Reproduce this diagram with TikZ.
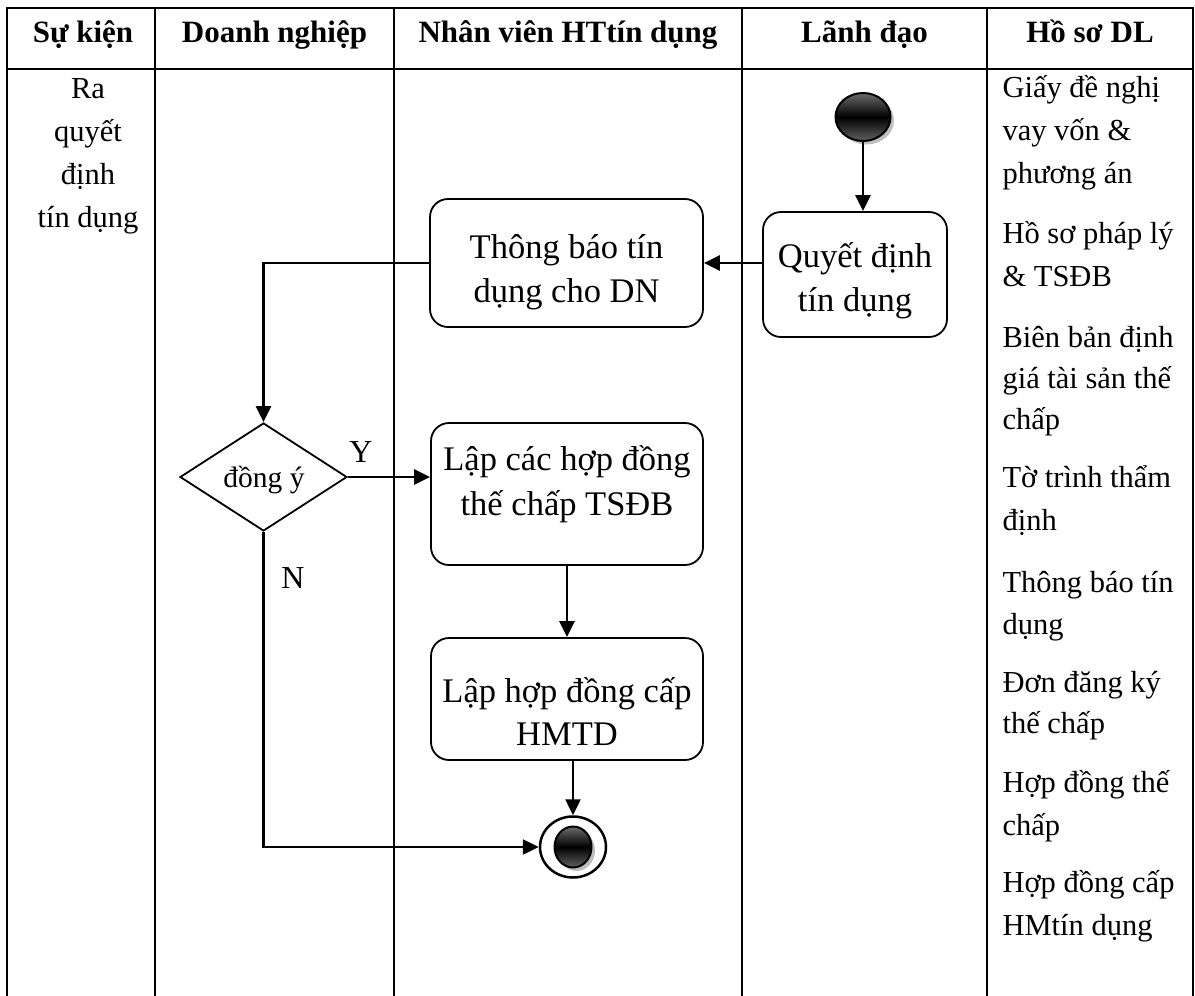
\documentclass[tikz,border=0pt]{standalone}
\usepackage{fontspec}
\setmainfont{Liberation Serif}
\usetikzlibrary{arrows.meta,shapes.geometric,shadows}
\begin{document}
\begin{tikzpicture}[x=1pt,y=-1pt,
  lane/.style={line width=2.8pt},
  act/.style={draw, line width=1.8pt, rounded corners=18pt, inner sep=0pt},
  acttext/.style={anchor=base, font=\fontsize{34.5}{40}\selectfont},
  flow/.style={line width=2.5pt, -{Triangle[length=16pt,width=15pt]}},
  head/.style={anchor=base, font=\bfseries\fontsize{31}{36}\selectfont},
  doc/.style={anchor=base west, font=\fontsize{30.5}{36}\selectfont},
  ev/.style={anchor=base, font=\fontsize{30.5}{36}\selectfont},
  yn/.style={anchor=base, font=\fontsize{32}{36}\selectfont},
  ball/.style={ellipse, draw, inner sep=0pt, top color=black!58, bottom color=black!62,
    middle color=black, drop shadow={shadow xshift=3.5pt, shadow yshift=-3.5pt, opacity=0.5}},
]
\useasboundingbox (0,0) rectangle (1195,996);

% swimlane table
\draw[lane] (7,996) -- (7,8) -- (1193,8) -- (1193,996);
\draw[lane] (7,69) -- (1193,69);
\foreach \x in {155,394,742,987} \draw[lane] (\x,8) -- (\x,996);

% column headings
\node[head] (h1) at (83,42) {Sự kiện};
\node[head] (h2) at (274.5,42) {Doanh nghiệp};
\node[head] (h3) at (568,42) {Nhân viên HTtín dụng};
\node[head] (h4) at (864.5,42) {Lãnh đạo};
\node[head] (h5) at (1090,42) {Hồ sơ DL};

% event
\node[ev] (e1) at (88,98) {Ra};
\node[ev] (e2) at (88,141) {quyết};
\node[ev] (e3) at (88,184) {định};
\node[ev] (e4) at (88,227) {tín dụng};

% documents
\node[doc] (d1)  at (999,97)  {Giấy đề nghị};
\node[doc] (d2)  at (999,140) {vay vốn \&};
\node[doc] (d3)  at (999,183) {phương án};
\node[doc] (d4)  at (999,243) {Hồ sơ pháp lý};
\node[doc] (d5)  at (999,286) {\& TSĐB};
\node[doc] (d6)  at (999,347) {Biên bản định};
\node[doc] (d7)  at (999,388) {giá tài sản thế};
\node[doc] (d8)  at (999,429) {chấp};
\node[doc] (d9)  at (999,487) {Tờ trình thẩm};
\node[doc] (d10) at (999,530) {định};
\node[doc] (d11) at (999,592) {Thông báo tín};
\node[doc] (d12) at (999,634) {dụng};
\node[doc] (d13) at (999,692) {Đơn đăng ký};
\node[doc] (d14) at (999,733) {thế chấp};
\node[doc] (d15) at (999,792) {Hợp đồng thế};
\node[doc] (d16) at (999,835) {chấp};
\node[doc] (d17) at (999,892) {Hợp đồng cấp};
\node[doc] (d18) at (999,935) {HMtín dụng};

% activities
\node[act, minimum width=273, minimum height=128] (tb) at (566.5,263) {};
\node[act, minimum width=184, minimum height=125] (qd) at (855,274.5) {};
\node[act, minimum width=272, minimum height=142] (lc) at (567,494) {};
\node[act, minimum width=272, minimum height=122] (lh) at (567,699) {};

\node[acttext] (tb1) at (566.5,258) {Thông báo tín};
\node[acttext] (tb2) at (566.5,302) {dụng cho DN};
\node[acttext] (qd1) at (855,267) {Quyết định};
\node[acttext] (qd2) at (855,311) {tín dụng};
\node[acttext] (lc1) at (567,470) {Lập các hợp đồng};
\node[acttext] (lc2) at (567,515) {thế chấp TSĐB};
\node[acttext] (lh1) at (567,702) {Lập hợp đồng cấp};
\node[acttext] (lh2) at (567,745) {HMTD};

% decision
\node[diamond, draw, line width=1.8pt, minimum width=167, minimum height=108, inner sep=0pt] (dia) at (263.5,477) {};
\node[font=\fontsize{29.5}{34}\selectfont] (dl) at (264,480) {đồng ý};
\node[yn] (ly) at (361,462) {Y};
\node[yn] (ln) at (293,588) {N};

% initial and final states
\node[ball, line width=2pt, minimum width=55, minimum height=48] (st) at (863,117) {};
\node[ellipse, draw, line width=2.5pt, fill=white, minimum width=66, minimum height=61, inner sep=0pt] (en) at (573,847) {};
\node[ball, line width=2pt, minimum width=37, minimum height=41] (enc) at (en.center) {};

% flows
\draw[flow] (st.south) -- (st.south |- qd.north);
\draw[flow] (qd.west |- tb.east) -- (tb.east);
\draw[flow] (tb.west) -| (dia.north);
\draw[flow] (dia.east) -- (dia.east -| lc.west);
\draw[flow] (lc.south) -- (lh.north);
\draw[flow] (en.north |- lh.south) -- (en.north);
\draw[flow] (dia.south) |- (en.west);
\end{tikzpicture}
\end{document}
